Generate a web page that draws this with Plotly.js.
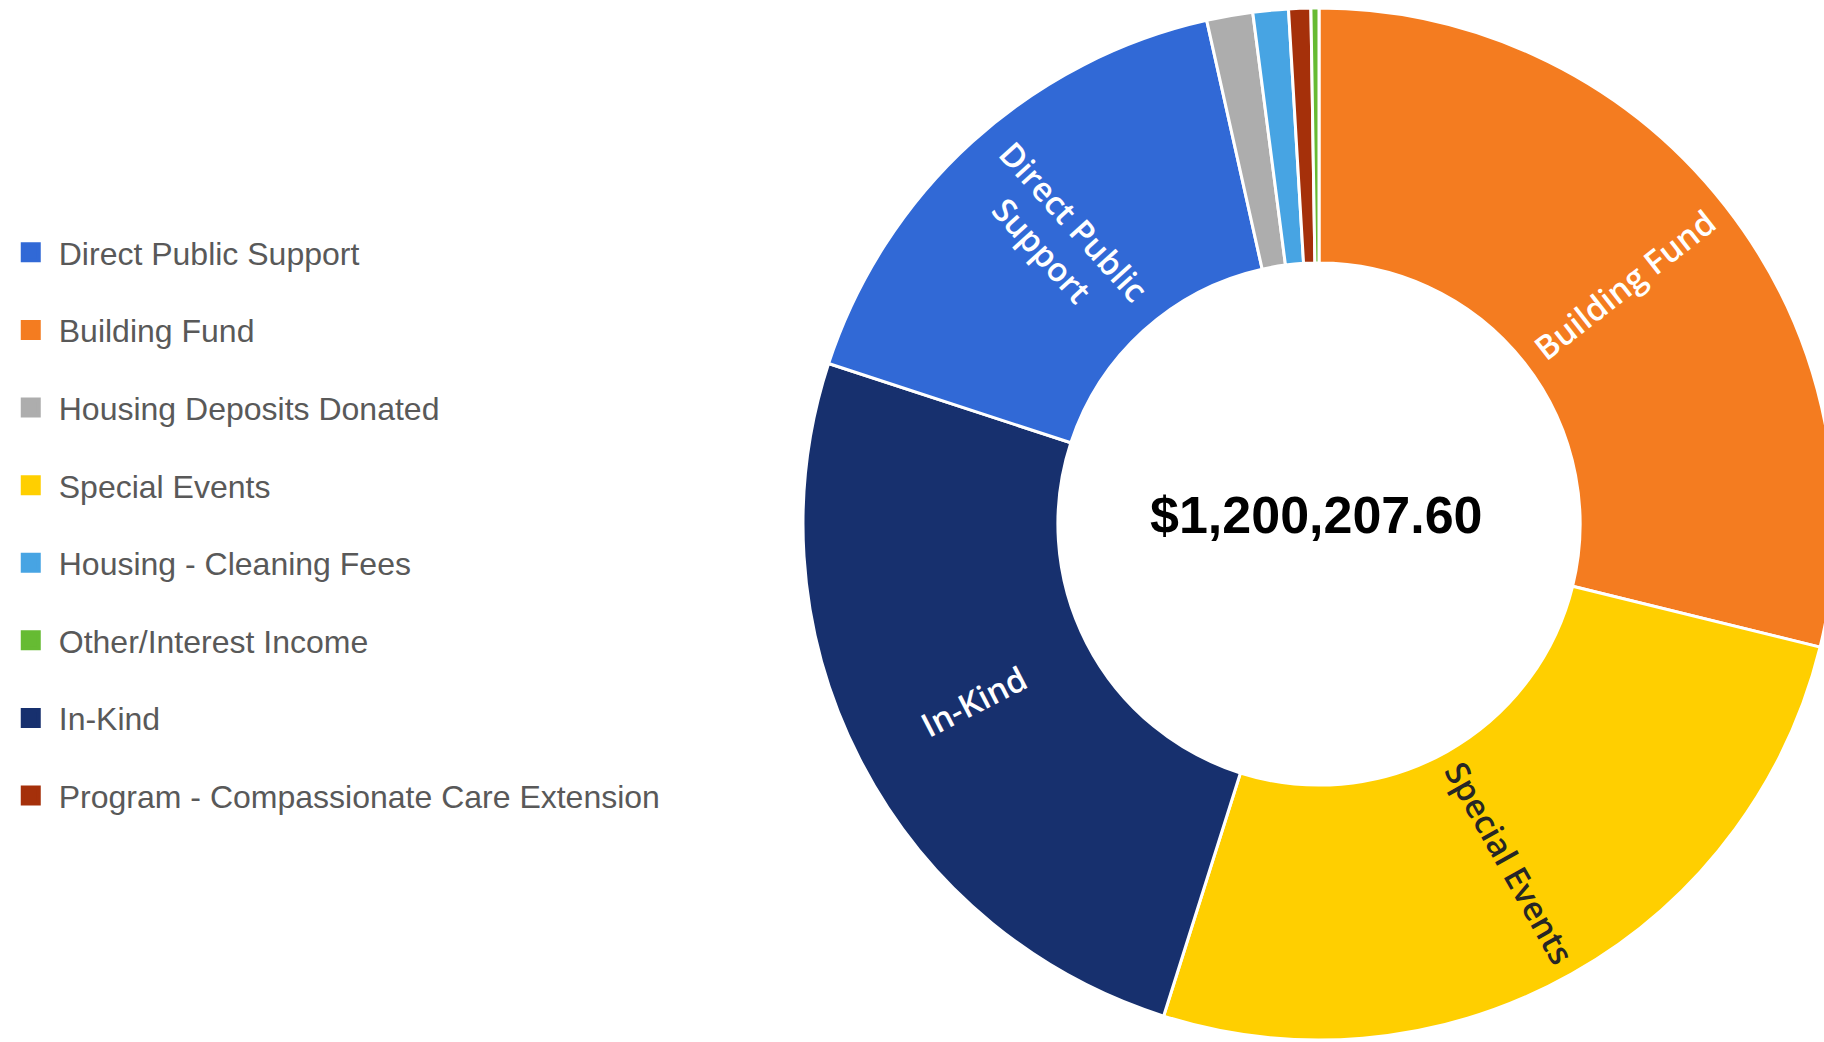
<!DOCTYPE html>
<html>
<head>
<meta charset="utf-8">
<script src="https://cdn.plot.ly/plotly-3.0.1.min.js"></script>
<style>
  html, body { margin: 0; padding: 0; background: #ffffff; overflow: hidden; }
  #wrap { width: 1824px; height: 1042px; overflow: hidden; position: relative; }
  #chart { width: 1840px; height: 1042px; }
</style>
</head>
<body>
<div id="wrap"><div id="chart"></div></div>
<script>
// Categories in legend order
const categories = [
  "Direct Public Support",
  "Building Fund",
  "Housing Deposits Donated",
  "Special Events",
  "Housing - Cleaning Fees",
  "Other/Interest Income",
  "In-Kind",
  "Program - Compassionate Care Extension"
];
// Estimated amounts (USD), same order as categories
const amounts = [197700, 346000, 17300, 312400, 13300, 3000, 302000, 8300];
// Slice colours, same order as categories
const colors = ["#3169D6", "#F47C20", "#ADADAD", "#FFCF00", "#47A4E3", "#66BB33", "#17306E", "#A5300A"];
// Text shown inside slices, same order as categories
const sliceText = ["Direct Public<br>Support", "Building Fund", "", "Special Events", "", "", "In-Kind", ""];
const sliceTextColors = ["#ffffff", "#ffffff", "#ffffff", "#262626", "#ffffff", "#ffffff", "#ffffff", "#ffffff"];
// Order of slices clockwise from 12 o'clock
const sliceOrder = [
  "Building Fund",
  "Special Events",
  "In-Kind",
  "Direct Public Support",
  "Housing Deposits Donated",
  "Housing - Cleaning Fees",
  "Program - Compassionate Care Extension",
  "Other/Interest Income"
];
const totalLabel = "$1,200,207.60";

// Geometry (layout only)
const W = 1840, H = 1042;
const CX = 1319, CY = 524, R = 516, HOLE = 0.506;

const idx = sliceOrder.map(n => categories.indexOf(n));
const pieValues = idx.map(i => amounts[i]);

const pieTrace = {
  type: "pie",
  labels: idx.map(i => categories[i]),
  values: pieValues,
  marker: { colors: idx.map(i => colors[i]), line: { color: "#ffffff", width: 3 } },
  sort: false,
  direction: "clockwise",
  rotation: 0,
  hole: HOLE,
  domain: { x: [(CX - R) / W, (CX + R) / W], y: [1 - (CY + R) / H, 1 - (CY - R) / H] },
  textinfo: "none",
  hoverinfo: "label+value+percent",
  showlegend: false
};

// Radial slice labels, positioned from the cumulative values
const sum = pieValues.reduce((a, b) => a + b, 0);
const rLabel = R * (1 + HOLE) / 2;
const labelAnnotations = [];
let cum = 0;
idx.forEach((ci, k) => {
  const v = pieValues[k];
  const mid = (cum + v / 2) / sum * 360;
  cum += v;
  if (!sliceText[ci]) return;
  const rad = mid * Math.PI / 180;
  const px = CX + rLabel * Math.sin(rad);
  const py = CY - rLabel * Math.cos(rad);
  const rot = mid < 180 ? mid - 90 : mid - 270;
  labelAnnotations.push({
    text: sliceText[ci],
    x: px / W, y: 1 - py / H,
    xref: "paper", yref: "paper",
    xanchor: "center", yanchor: "middle",
    align: "center",
    textangle: rot,
    showarrow: false,
    font: { family: "Open Sans", size: 33, weight: 600, color: sliceTextColors[ci] }
  });
});

const legendTraces = categories.map((name, i) => ({
  type: "scatter",
  mode: "markers",
  x: [null],
  y: [null],
  name: name,
  legendgroup: "g" + i,
  marker: { symbol: "square", size: 16, color: colors[i], line: { color: colors[i], width: 4 } },
  showlegend: true,
  hoverinfo: "skip"
}));

const layout = {
  width: W,
  height: H,
  margin: { l: 0, r: 0, t: 0, b: 0 },
  paper_bgcolor: "#ffffff",
  plot_bgcolor: "#ffffff",
  showlegend: true,
  xaxis: { visible: false },
  yaxis: { visible: false },
  legend: {
    x: 0.0015, xanchor: "left",
    y: 0.784, yanchor: "top",
    font: { family: "Liberation Sans", size: 32, color: "#595959" },
    tracegroupgap: 33,
    itemwidth: 46,
    bgcolor: "rgba(0,0,0,0)"
  },
  annotations: [{
    text: totalLabel,
    x: 1316 / W, y: 1 - 515 / H,
    xref: "paper", yref: "paper",
    xanchor: "center", yanchor: "middle",
    showarrow: false,
    font: { family: "Liberation Sans", size: 52, weight: "bold", color: "#000000" }
  }].concat(labelAnnotations)
};

Plotly.newPlot("chart", [pieTrace].concat(legendTraces), layout, { displayModeBar: false });
</script>
</body>
</html>
